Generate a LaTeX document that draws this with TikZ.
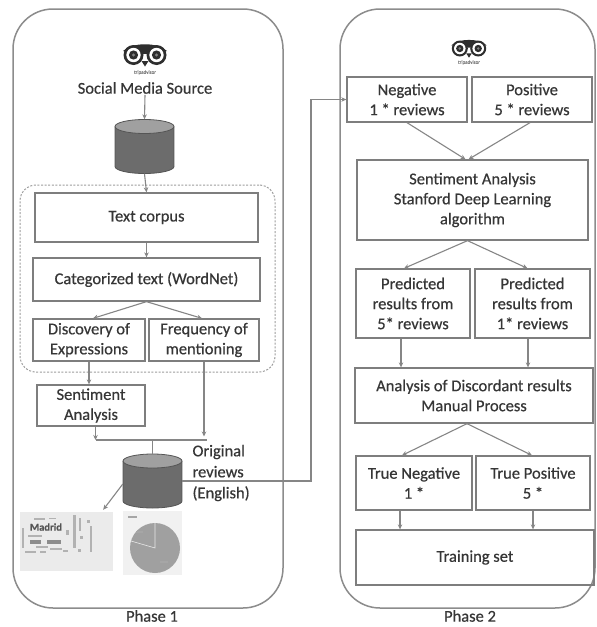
\documentclass[tikz,border=0pt]{standalone}
\usepackage{fontspec}
\setmainfont{Carlito}[FakeBold=0.5]
\usetikzlibrary{arrows.meta}
\definecolor{ink}{HTML}{363636}
\definecolor{edge}{HTML}{7E7E7E}
\definecolor{wire}{HTML}{868686}
\definecolor{frame}{HTML}{8C8C8C}
\definecolor{owlblack}{HTML}{2E2E2E}
\definecolor{dbbody}{HTML}{6C6C6C}
\definecolor{dbtop}{HTML}{A0A0A0}
\definecolor{dbline}{HTML}{555555}
\definecolor{cloudbg}{HTML}{EBEBEB}
\definecolor{piebg}{HTML}{F1F1F1}
\definecolor{pie}{HTML}{A0A0A0}
\tikzset{
  stepbox/.style={draw=edge, line width=1.3pt, align=center, inner sep=0pt, text=ink},
  flow/.style={draw=wire, line width=1.1pt, -{Stealth[length=5pt,width=4.5pt]}},
  link/.style={draw=wire, line width=1.1pt},
  panel/.style={draw=frame, line width=1.5pt, rounded corners=40pt, inner sep=0pt},
  slot/.style={minimum width=59pt, minimum height=54pt, inner sep=0pt},
  % drum-shaped data store, 59 x 54, centred on the pic origin
  drum/.pic={
    \fill[dbbody] (-29.5,-20) rectangle (29.5,20);
    \fill[dbbody] (0,20) ellipse (29.5 and 7);
    \draw[dbline, line width=0.8pt] (-29.5,-20) -- (-29.5,20) arc (180:0:29.5 and 7) -- (29.5,-20);
    \filldraw[fill=dbtop, draw=dbline, line width=0.8pt] (0,-20) ellipse (29.5 and 7);
  },
  owl/.pic={
    \fill[owlblack] (-22,-4) .. controls (-12,-13) and (12,-13) .. (22,-4) -- (0,-1) -- cycle;
    \fill[owlblack] (-11.5,0) circle (10) (11.5,0) circle (10);
    \fill[owlblack] (-3.5,6) -- (0,11.5) -- (3.5,6) -- cycle;
    \fill[white] (-11.5,0) circle (7.2) (11.5,0) circle (7.2);
    \fill[owlblack] (-11.5,0) circle (4.6) (11.5,0) circle (4.6);
    \fill[gray] (-11.5,0) circle (1.7) (11.5,0) circle (1.7);
    \node[font=\fontsize{5}{5}\selectfont, text=gray] at (0,17.5) {tripadvisor};
  }
}
\begin{document}
\begin{tikzpicture}[x=1pt, y=-1pt, font=\fontsize{16.5}{20}\selectfont, text=ink]
\useasboundingbox[fill=white] (0,0) rectangle (597,627);

% ---------- Phase 1 ----------
\node[panel, minimum width=270pt, minimum height=599pt] (phaseone) at (148,308.5) {};
\node (phaseonelabel) at (152,616) {Phase 1};

\pic at (145,55) {owl};
\node[inner sep=1pt] (source) at (145,88) {Social Media Source};
\pic at (144.5,146.5) {drum};
\node[slot] (srcdb) at (144.5,146.5) {};

\node[draw=frame!85, dash pattern=on 2pt off 1.6pt, line width=1pt, rounded corners=16pt,
      minimum width=255pt, minimum height=187pt] (group) at (147.5,278.5) {};
\node[stepbox, minimum width=223pt, minimum height=49pt] (corpus) at (146.5,217.5) {Text corpus};
\node[stepbox, minimum width=227pt, minimum height=43pt] (cattext) at (146.5,279.5) {Categorized text (WordNet)};
\node[stepbox, minimum width=112pt, minimum height=42pt] (discovery) at (89,340) {Discovery of\\Expressions};
\node[stepbox, minimum width=110pt, minimum height=42pt] (frequency) at (204,340) {Frequency of\\mentioning};
\node[stepbox, minimum width=108pt, minimum height=41pt] (sentleft) at (91,405.5) {Sentiment\\Analysis};

\pic at (152.5,481) {drum};
\node[slot] (origdb) at (152.5,481) {};
\node[anchor=west, align=left, font=\fontsize{16.5}{21}\selectfont] (origlabel) at (189,473) {Original\\reviews\\(English)};

% word cloud thumbnail
\node[fill=cloudbg, minimum width=93pt, minimum height=59pt, inner sep=0pt] (cloud) at (66.5,541.5) {};
\node[font=\bfseries\fontsize{10.5}{10.5}\selectfont, text=ink!85, inner sep=0pt] (madrid) at (46,527) {Madrid};
\begin{scope}[fill=black!30]
  \fill (34,517.5) rectangle (45,519.5);
  \fill (49,517.5) rectangle (56,519);
  \fill (28,535) rectangle (42,536.5);
  \fill[black!45] (30,540) rectangle (41,543.5);
  \fill[black!45] (47,540) rectangle (61,543.5);
  \fill (36,546) rectangle (48,547.5);
  \fill (25,551) rectangle (36,552.5);
  \fill (40,551) rectangle (46,552.5);
  \fill (50,548) rectangle (62,549.5);
  \fill (73,515) rectangle (75.5,548);
  \fill (79,518) rectangle (81,531);
  \fill (80,536) rectangle (83,539);
  \fill (87,520) rectangle (90,523);
  \fill (90,526) rectangle (92,552);
  \fill (66,530) rectangle (69,535);
  \fill (63,550) rectangle (68,551.5);
  \fill (78,549) rectangle (81,551.5);
  \fill (22,528) rectangle (23.5,548);
\end{scope}

% pie chart thumbnail
\node[fill=piebg, minimum width=59pt, minimum height=64pt, inner sep=0pt] (piebox) at (152.5,543) {};
\fill[black!35] (128,516) rectangle (137,517.5);
\fill[pie] (155,548) circle (25);
\draw[white!75!pie, line width=0.6pt] (155,523) -- (155,548) -- (131,541);
\fill[black!35] (136,531) rectangle (143,532.5);
\fill[black!35] (160,561) rectangle (168,562.5);

% Phase 1 connectors
\draw[flow] (source.south) -- (srcdb.north);
\draw[flow] (srcdb.south) -- (corpus.north);
\draw[flow] (corpus.south) -- (cattext.north);
\draw[flow] (cattext.south) -- ([xshift=4pt]discovery.north);
\draw[flow] (cattext.south) -- ([xshift=-2pt]frequency.north);
\draw[flow] (discovery.south) -- (discovery.south |- sentleft.north);
\coordinate (joinleft) at (95.5,440);
\coordinate (joinright) at (207,440);
\coordinate (joinmid) at (152.5,440);
\draw[flow, shorten >=3.5pt] (frequency.south) -- (frequency.south |- joinright);
\draw[flow] (joinleft |- sentleft.south) -- (joinleft);
\draw[link] (joinleft) -- (joinright);
\draw[link] (joinmid) -- (origdb.north);
\draw[flow] ([yshift=-3pt]origdb.west) -- ([xshift=-10pt,yshift=2pt]cloud.north east);

% ---------- Phase 2 ----------
\node[panel, minimum width=255pt, minimum height=599pt] (phasetwo) at (467.5,308.5) {};
\node (phasetwolabel) at (470,616) {Phase 2};

\pic[scale=0.8] at (469,48.5) {owl};
\node[stepbox, minimum width=120pt, minimum height=45pt] (negative) at (407,99.5) {Negative\\1 * reviews};
\node[stepbox, minimum width=120pt, minimum height=45pt] (positive) at (532,99.5) {Positive\\5 * reviews};
\node[stepbox, minimum width=231pt, minimum height=80pt] (stanford) at (472.5,200) {Sentiment Analysis\\Stanford Deep Learning\\algorithm};
\node[stepbox, minimum width=114pt, minimum height=69pt] (predfive) at (413,303.5) {Predicted\\results from\\5* reviews};
\node[stepbox, minimum width=115pt, minimum height=69pt] (predone) at (532.5,303.5) {Predicted\\results from\\1* reviews};
\node[stepbox, minimum width=238pt, minimum height=55pt] (discord) at (474,395.5) {Analysis of Discordant results\\Manual Process};
\node[stepbox, minimum width=116pt, minimum height=54pt] (trueneg) at (414,483) {True Negative\\1 *};
\node[stepbox, minimum width=114pt, minimum height=54pt] (truepos) at (533,483) {True Positive\\5 *};
\node[stepbox, minimum width=238pt, minimum height=55pt] (training) at (475,557.5) {Training set};

% link from the review store into Phase 2
\coordinate (bend) at (311,99.5);
\draw[flow] (origdb.east) -| (bend) -- (negative.west);

% Phase 2 connectors
\draw[flow] (negative.south) -- ([xshift=-7pt]stanford.north);
\draw[flow] ([xshift=-2pt]positive.south) -- ([xshift=-4pt]stanford.north);
\draw[flow] ([xshift=-5pt]stanford.south) -- ([xshift=-9pt]predfive.north);
\draw[flow] ([xshift=-5pt]stanford.south) -- ([xshift=-5pt]predone.north);
\coordinate (fiveout) at ([xshift=-12pt]predfive.south);
\coordinate (oneout) at ([xshift=-4.5pt]predone.south);
\draw[flow] (fiveout) -- (fiveout |- discord.north);
\draw[flow] (oneout) -- (oneout |- discord.north);
\draw[flow] ([xshift=-7pt]discord.south) -- ([xshift=-12pt]trueneg.north);
\draw[flow] ([xshift=-7pt]discord.south) -- ([xshift=-1pt]truepos.north);
\coordinate (negout) at ([xshift=-14pt]trueneg.south);
\draw[flow] (negout) -- (negout |- training.north);
\draw[flow] (truepos.south) -- (truepos.south |- training.north);
\end{tikzpicture}
\end{document}
